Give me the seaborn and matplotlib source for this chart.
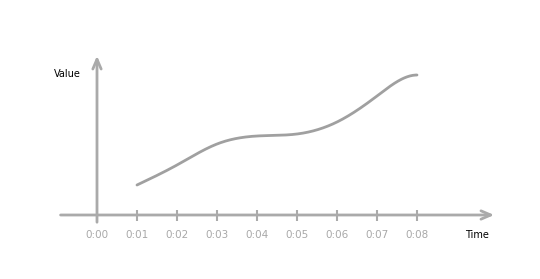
import numpy as np
import pandas as pd
import matplotlib
matplotlib.use("Agg")
import matplotlib.pyplot as plt
import seaborn as sns

# Data
times = [1, 2, 3, 4, 5, 6, 7, 8]
values = [30, 50, 71, 79, 81, 93, 119, 140]
tick_positions = [0, 1, 2, 3, 4, 5, 6, 7, 8]
tick_labels = ["0:00", "0:01", "0:02", "0:03", "0:04", "0:05", "0:06", "0:07", "0:08"]
x_title = "Time"
y_title = "Value"


def smooth_curve(x, y, n=400):
    """Cubic spline through the points: natural start, flat (clamped) end."""
    x = np.asarray(x, float)
    y = np.asarray(y, float)
    N = len(x)
    h = np.diff(x)
    A = np.zeros((N, N))
    b = np.zeros(N)
    # natural start: M0 = 0
    A[0, 0] = 1.0
    for i in range(1, N - 1):
        A[i, i - 1] = h[i - 1]
        A[i, i] = 2 * (h[i - 1] + h[i])
        A[i, i + 1] = h[i]
        b[i] = 6 * ((y[i + 1] - y[i]) / h[i] - (y[i] - y[i - 1]) / h[i - 1])
    # clamped end: slope 0
    A[-1, -2] = h[-1]
    A[-1, -1] = 2 * h[-1]
    b[-1] = 6 * (0.0 - (y[-1] - y[-2]) / h[-1])
    M = np.linalg.solve(A, b)
    xs = np.linspace(x[0], x[-1], n)
    idx = np.clip(np.searchsorted(x, xs) - 1, 0, N - 2)
    xi, xi1 = x[idx], x[idx + 1]
    hi = h[idx]
    ys = (M[idx] * (xi1 - xs) ** 3 / (6 * hi) + M[idx + 1] * (xs - xi) ** 3 / (6 * hi)
          + (y[idx] / hi - M[idx] * hi / 6) * (xi1 - xs)
          + (y[idx + 1] / hi - M[idx + 1] * hi / 6) * (xs - xi))
    return xs, ys


sns.set_style("white")
plt.rcParams["font.family"] = ["DejaVu Sans"]

fig = plt.figure(figsize=(5.4, 2.79), dpi=100)
ax = fig.add_axes([0, 0, 1, 1])
ax.set_axis_off()
ax.set_xlim(-2.425, 11.075)
ax.set_ylim(-64, 215)

axis_color = "#aaaaaa"

xs, ys = smooth_curve(times, values)
df = pd.DataFrame({"t": xs, "v": ys})
sns.lineplot(data=df, x="t", y="v", ax=ax, color="#a0a0a0", linewidth=2, sort=False)

# Axes with arrows
ax.annotate("", xy=(10.0, 0), xytext=(-0.98, 0),
            arrowprops=dict(arrowstyle="->,head_length=0.7,head_width=0.3", color=axis_color, lw=2))
ax.annotate("", xy=(0, 162), xytext=(0, -10),
            arrowprops=dict(arrowstyle="->,head_length=0.7,head_width=0.3", color=axis_color, lw=2))

# tick marks and labels
for p, lab in zip(tick_positions, tick_labels):
    if p != 0:
        ax.plot([p, p], [-5.5, 5.5], color=axis_color, lw=1.5, solid_capstyle="butt")
    ax.text(p, -20, lab, ha="center", va="center", color="#a8a8a8", fontsize=7.5)

ax.text(9.5, -20, x_title, ha="center", va="center", color="#000000", fontsize=7)
ax.text(-0.75, 141, y_title, ha="center", va="center", color="#000000", fontsize=7)

fig.savefig("out.png", dpi=100)
